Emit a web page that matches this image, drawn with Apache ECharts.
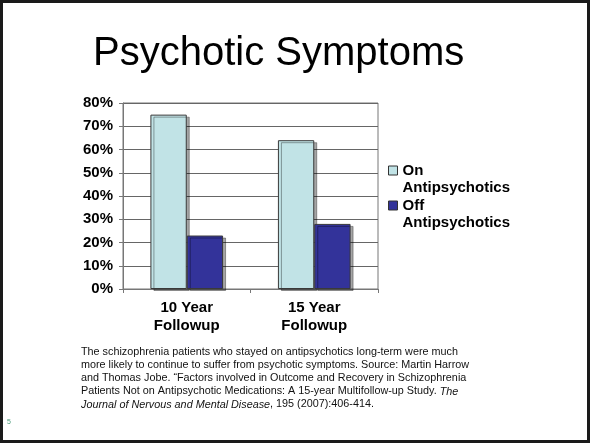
<!DOCTYPE html>
<html>
<head>
<meta charset="utf-8">
<script src="https://cdn.jsdelivr.net/npm/echarts@6/dist/echarts.min.js"></script>
<style>
  html, body { margin: 0; padding: 0; background: #fff; }
  #main { width: 591px; height: 444px; }
</style>
</head>
<body>
<div id="main"></div>
<script>
// data
var categories = ['10 Year\nFollowup', '15 Year\nFollowup']
var onAntipsychotics = [75, 64]
var offAntipsychotics = [23, 28]
var seriesNames = ['On\nAntipsychotics', 'Off\nAntipsychotics']
var yMax = 80
var yStep = 10

var titleText = 'Psychotic Symptoms'
var captionLines = [
  '{n|The schizophrenia patients who stayed on antipsychotics long-term were much}',
  '{n|more likely to continue to suffer from psychotic symptoms. Source: Martin Harrow}',
  '{n|and Thomas Jobe. \u201CFactors involved in Outcome and Recovery in Schizophrenia}',
  '{n|Patients Not on Antipsychotic Medications: A 15-year Multifollow-up Study. }{it|The}',
  '{it|Journal of Nervous and Mental Disease}{n|, 195 (2007):406-414.}'
]
var slideNumber = '5'

var FONT = "'Liberation Sans', Arial, sans-serif"

var myChart = echarts.init(document.getElementById('main'))

var barShadow = {
  borderColor: '#3a3a3a',
  borderWidth: 1,
  shadowColor: 'rgba(0,0,0,0.35)',
  shadowOffsetX: 3,
  shadowOffsetY: 2
}

myChart.setOption({
  animation: false,
  title: {
    text: titleText,
    left: 88,
    top: 29,
    textStyle: { fontFamily: FONT, fontSize: 40, fontWeight: 'normal', color: '#000' }
  },
  grid: {
    left: 123,
    right: 213,
    top: 103,
    bottom: 155,
    show: true,
    borderColor: '#777',
    borderWidth: 1
  },
  // 图例：前面加一空行，让图标对准第一行文字
  legend: {
    orient: 'vertical',
    left: 388,
    top: 145,
    padding: 0,
    itemGap: -16,
    itemWidth: 9,
    itemHeight: 9,
    icon: 'rect',
    itemStyle: { borderColor: '#333', borderWidth: 1, shadowColor: 'transparent', shadowOffsetX: 0, shadowOffsetY: 0 },
    textStyle: { fontFamily: FONT, fontSize: 15, fontWeight: 'bold', color: '#000', lineHeight: 17 },
    formatter: function (name) {
      return ' \n' + name
    },
    data: seriesNames
  },
  xAxis: {
    type: 'category',
    data: categories,
    axisLine: { lineStyle: { color: '#777' } },
    axisTick: { show: true, length: 4, lineStyle: { color: '#777' } },
    axisLabel: { fontFamily: FONT, fontSize: 15, fontWeight: 'bold', color: '#000', lineHeight: 18, margin: 10 }
  },
  yAxis: {
    type: 'value',
    min: 0,
    max: yMax,
    interval: yStep,
    axisLine: { show: true, lineStyle: { color: '#777' } },
    axisTick: { show: true, length: 4, lineStyle: { color: '#777' } },
    axisLabel: { formatter: '{value}%', fontFamily: FONT, fontSize: 15, fontWeight: 'bold', color: '#000', margin: 10 },
    splitLine: { lineStyle: { color: '#666' } }
  },
  series: [
    {
      name: seriesNames[0],
      type: 'bar',
      data: onAntipsychotics,
      barGap: '0%',
      barCategoryGap: '43%',
      itemStyle: Object.assign({ color: '#c1e3e6' }, barShadow)
    },
    {
      name: seriesNames[1],
      type: 'bar',
      data: offAntipsychotics,
      itemStyle: Object.assign({ color: '#33339a' }, barShadow)
    }
  ],
  graphic: [
    {
      type: 'rect',
      silent: true,
      z: 100,
      shape: { x: 1.5, y: 1.5, width: 587, height: 440 },
      style: { fill: 'none', stroke: '#1a1a1a', lineWidth: 3 }
    },
    {
      type: 'text',
      left: 81,
      top: 346,
      style: {
        text: captionLines.join('\n'),
        fontFamily: FONT,
        fontSize: 11,
        lineHeight: 13,
        fill: '#111',
        rich: {
          n: { fontFamily: FONT, fontSize: 10.8, fontStyle: 'normal', lineHeight: 13, fill: '#111' },
          it: { fontFamily: FONT, fontSize: 10.8, fontStyle: 'italic', lineHeight: 13, fill: '#111' }
        }
      }
    },
    {
      type: 'text',
      left: 7,
      top: 419,
      style: { text: slideNumber, fontFamily: FONT, fontSize: 7, fill: '#4a9a7a' }
    }
  ]
})
</script>
</body>
</html>
